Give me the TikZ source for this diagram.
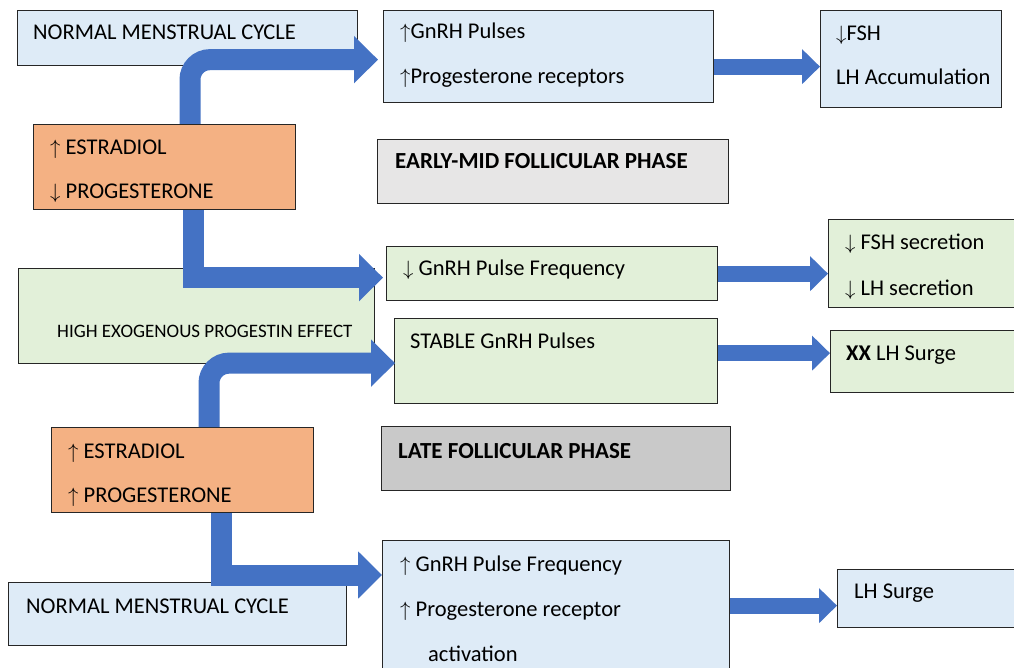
\documentclass[tikz,border=0pt]{standalone}
\usepackage{fontspec}
\setmainfont{Carlito}
\usepackage{xcolor}
\usetikzlibrary{arrows.meta}

\definecolor{flowblue}{HTML}{4472C4}
\definecolor{paleblue}{HTML}{DEEBF7}
\definecolor{palegreen}{HTML}{E2F0D9}
\definecolor{peach}{HTML}{F4B183}
\definecolor{lightgrey}{HTML}{E7E6E6}
\definecolor{midgrey}{HTML}{C9C9C9}

\begin{document}
\begin{tikzpicture}[x=1pt,y=-1pt,
  box/.style={draw=black!85,line width=1.3pt,anchor=north west,inner sep=0pt},
  bluebox/.style={box,fill=paleblue},
  greenbox/.style={box,fill=palegreen},
  hormbox/.style={box,fill=peach},
  phasebox/.style={box,fill=#1},
  txt/.style={anchor=west,inner sep=0pt,text height=16pt,text depth=4pt,
    font=\fontsize{22.5}{27}\selectfont},
  flow/.style={draw=flowblue,line width=21pt,-{Triangle[length=24pt,width=46pt]}},
  rflow/.style={draw=flowblue,line width=16pt,-{Triangle[length=18pt,width=34pt]}}]
  \useasboundingbox (0,0) rectangle (1014,668);
  \clip (0,0) rectangle (1014,668);
  \fill[white] (0,0) rectangle (1014,668);

  % boxes
  \node[bluebox,minimum width=340pt,minimum height=55pt] (nmcA) at (17,10) {};
  \node[bluebox,minimum width=330pt,minimum height=92pt] (gnrhA) at (383,10) {};
  \node[bluebox,minimum width=181pt,minimum height=97pt] (fshA) at (820,10) {};
  \node[hormbox,minimum width=262pt,minimum height=85pt] (estA) at (33,124) {};
  \node[phasebox=lightgrey,minimum width=351pt,minimum height=64pt] (early) at (377,139) {};
  \node[greenbox,minimum width=331pt,minimum height=54pt] (gnrhB) at (386,246) {};
  \node[greenbox,minimum width=200pt,minimum height=88pt] (fshB) at (828,219) {};
  \node[greenbox,minimum width=356pt,minimum height=95pt] (exog) at (18,268) {};
  \node[greenbox,minimum width=323pt,minimum height=85pt] (stable) at (394,318) {};
  \node[greenbox,minimum width=200pt,minimum height=62pt] (surgeB) at (830,330) {};
  \node[hormbox,minimum width=262pt,minimum height=85pt] (estB) at (51,427) {};
  \node[phasebox=midgrey,minimum width=349pt,minimum height=64pt] (late) at (381,426) {};
  \node[bluebox,minimum width=338pt,minimum height=63pt] (nmcB) at (8,582) {};
  \node[bluebox,minimum width=347pt,minimum height=140pt] (gnrhC) at (382,540) {};
  \node[bluebox,minimum width=190pt,minimum height=58pt] (surgeC) at (837,569) {};

  % texts
  \node[txt] at (33,34) {NORMAL MENSTRUAL CYCLE};
  \node[txt] at (400,33) {$\uparrow$GnRH Pulses};
  \node[txt] at (400,78) {$\uparrow$Progesterone receptors};
  \node[txt] at (836,35) {$\downarrow$FSH};
  \node[txt] at (836,79) {LH Accumulation};
  \node[txt] at (50,149) {$\uparrow$ ESTRADIOL};
  \node[txt] at (50,193) {$\downarrow$ PROGESTERONE};
  \node[txt,font=\fontsize{23}{27}\selectfont\bfseries] at (395,163) {EARLY-MID FOLLICULAR PHASE};
  \node[txt] at (403,270) {$\downarrow$ GnRH Pulse Frequency};
  \node[txt] at (845,244) {$\downarrow$ FSH secretion};
  \node[txt] at (845,289) {$\downarrow$ LH secretion};
  \node[txt,font=\fontsize{19}{23}\selectfont] at (57,331) {HIGH EXOGENOUS PROGESTIN EFFECT};
  \node[txt] at (410,342) {STABLE GnRH Pulses};
  \node[txt] at (846,354) {\textbf{XX} LH Surge};
  \node[txt] at (68,452) {$\uparrow$ ESTRADIOL};
  \node[txt] at (68,496) {$\uparrow$ PROGESTERONE};
  \node[txt,font=\fontsize{23}{27}\selectfont\bfseries] at (398,452) {LATE FOLLICULAR PHASE};
  \node[txt] at (26,607) {NORMAL MENSTRUAL CYCLE};
  \node[txt] at (400,565) {$\uparrow$ GnRH Pulse Frequency};
  \node[txt] at (400,610) {$\uparrow$ Progesterone receptor};
  \node[txt] at (428,655) {activation};
  \node[txt] at (854,592) {LH Surge};

  % bent arrows
  \draw[flow,rounded corners=20pt] ([xshift=157pt]estA.north west) |- ([xshift=-5pt,yshift=-3pt]gnrhA.west);
  \draw[flow] ([xshift=160pt]estA.south west) |- ([xshift=-3pt,yshift=-4pt]gnrhB.west);
  \draw[flow,rounded corners=20pt] ([xshift=158pt]estB.north west) |- ([xshift=1pt,yshift=-2pt]stable.west);
  \draw[flow] ([xshift=170pt]estB.south west) |- ([yshift=-35pt]gnrhC.north west);

  % straight arrows
  \coordinate (r1) at ([yshift=-10pt]gnrhA.east);
  \coordinate (r3) at ([yshift=8pt]stable.east);
  \coordinate (r4) at ([yshift=5pt]gnrhC.east);
  \draw[rflow] (r1) -- (r1 -| fshA.west);
  \draw[rflow] (gnrhB.east) -- (gnrhB.east -| fshB.west);
  \draw[rflow] (r3) -- (r3 -| surgeB.west);
  \draw[rflow] (r4) -- (r4 -| surgeC.west);
\end{tikzpicture}
\end{document}
